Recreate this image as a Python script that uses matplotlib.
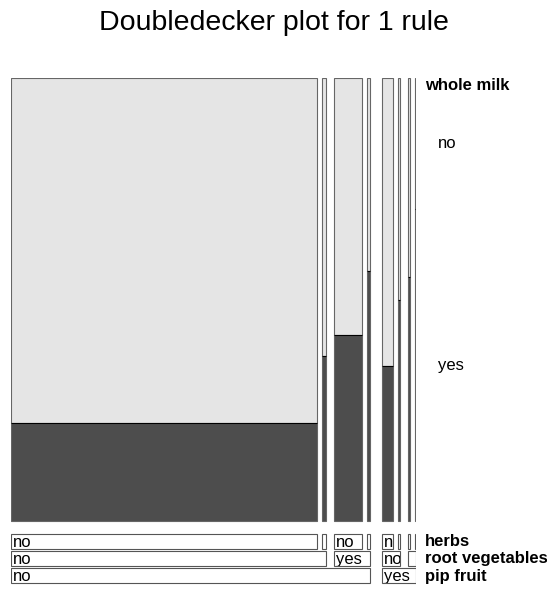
import matplotlib
matplotlib.use("Agg")
import matplotlib.pyplot as plt
from matplotlib.patches import Rectangle

plt.rcParams['font.family'] = ['Liberation Sans', 'DejaVu Sans']

# ---- data ----
title = "Doubledecker plot for 1 rule"
response = "whole milk"
response_levels = ["no", "yes"]
variables = ["pip fruit", "root vegetables", "herbs"]   # outer -> inner
# cells in order (pip fruit, root vegetables, herbs)
cell_keys = [("no", "no", "no"), ("no", "no", "yes"), ("no", "yes", "no"), ("no", "yes", "yes"),
             ("yes", "no", "no"), ("yes", "no", "yes"), ("yes", "yes", "no"), ("yes", "yes", "yes")]
counts = [8443, 110, 770, 83, 300, 50, 55, 38]
conf_yes = [0.221, 0.372, 0.42, 0.564, 0.35, 0.50, 0.55, 0.704]

# ---- style ----
W, H = 547, 592
light = "#E5E5E5"
dark = "#4D4D4D"
edge = "#666666"
gap_px = {0: 12.0, 1: 8.0, 2: 5.0}   # gap between groups differing at depth d

fig = plt.figure(figsize=(W / 100, H / 100), dpi=100)
x0_px, x1_px = 11, 416
ytop_px, ybot_px = 78, 521
row_bottom_px = 585
ax = fig.add_axes([x0_px / W, 1 - row_bottom_px / H, (x1_px - x0_px) / W,
                   (row_bottom_px - ytop_px) / H])
ax.set_axis_off()
unit = ybot_px - ytop_px

def ypx(p):
    return -(p - ybot_px) / unit

# gap depths between consecutive cells
depths = []
for i in range(1, len(cell_keys)):
    prev, k = cell_keys[i - 1], cell_keys[i]
    depths.append(next(j for j in range(3) if prev[j] != k[j]))
total_gap_px = sum(gap_px[d] for d in depths)
px_per_count = ((x1_px - x0_px) - total_gap_px) / sum(counts)

xs = []
x = 0.0
for i, c in enumerate(counts):
    if i > 0:
        x += gap_px[depths[i - 1]] / px_per_count
    xs.append(x)
    x += c
total = x
ax.set_xlim(0, total)
ax.set_ylim(ypx(row_bottom_px), 1)

lw = 0.8
for xi, c, p in zip(xs, counts, conf_yes):
    ax.add_patch(Rectangle((xi, 0), c, p, facecolor=dark, edgecolor=edge, lw=lw))
    ax.add_patch(Rectangle((xi, p), c, 1 - p, facecolor=light, edgecolor=edge, lw=lw))
    ax.plot([xi, xi + c], [p, p], color="black", lw=lw, solid_capstyle="butt")

# label rows
rows = {2: (534, 549), 1: (551, 566), 0: (568, 583)}
pad = 2.0 / px_per_count
fs = 12
for depth in range(3):
    top, bot = rows[depth]
    y0, y1 = ypx(bot), ypx(top)
    groups = []
    for i, k in enumerate(cell_keys):
        key = k[:depth + 1]
        if groups and groups[-1][0] == key:
            groups[-1][2] = i
        else:
            groups.append([key, i, i])
    for key, a, b in groups:
        gx0 = xs[a]
        gx1 = xs[b] + counts[b]
        r = Rectangle((gx0, y0), gx1 - gx0, y1 - y0, facecolor="white",
                      edgecolor="#555555", lw=lw)
        ax.add_patch(r)
        if (gx1 - gx0) * px_per_count > 9.5:
            t = ax.text(gx0 + pad, (y0 + y1) / 2 - 0.002, key[-1], ha="left", va="center",
                        fontsize=fs, color="black", clip_on=True)
            t.set_clip_path(r)
    fig.text(425 / W, 1 - ((top + bot) / 2 + 0.5) / H, variables[depth], ha="left",
             va="center", fontsize=fs, fontweight="bold")

# response labels
fig.text(425 / W, 1 - 85 / H, response, ha="left", va="center", fontsize=fs,
         fontweight="bold")
p_last = conf_yes[-1]
for lev, yy in zip(response_levels, [(1 + p_last) / 2, p_last / 2]):
    ypix = ybot_px - yy * unit
    fig.text(438 / W, 1 - ypix / H, lev, ha="left", va="center", fontsize=fs)

fig.text(0.5, 1 - 23 / H, title, ha="center", va="center", fontsize=20.5)

fig.savefig("out.png", dpi=100)
